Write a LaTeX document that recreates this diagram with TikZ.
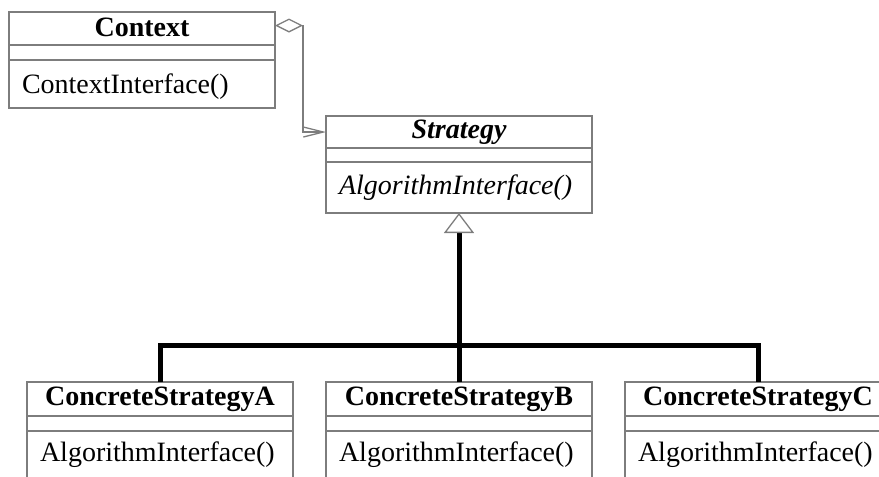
\documentclass[tikz,border=0pt]{standalone}
\usepackage{fontspec}
\setmainfont{Liberation Serif}
\usetikzlibrary{positioning,arrows.meta}
\definecolor{linegray}{RGB}{125,125,125}
\tikzset{
	classname/.style={draw=linegray, line width=1.3pt, outer sep=0pt, inner xsep=13pt, inner ysep=0pt, text width=240pt, align=center, text height=19pt, text depth=6pt, minimum height=33pt, font=\fontsize{28}{32}\selectfont\bfseries},
	classattr/.style={draw=linegray, line width=1.3pt, outer sep=0pt, inner sep=0pt, minimum width=266pt, minimum height=15pt},
	classop/.style={draw=linegray, line width=1.3pt, outer sep=0pt, inner xsep=13pt, inner ysep=0pt, text width=240pt, align=left, text height=19pt, text depth=6pt, minimum height=48pt, font=\fontsize{28}{32}\selectfont},
	assoc/.style={draw=linegray, line width=1.3pt, {Diamond[open, length=28pt, width=14pt]}-{Straight Barb[length=20pt, width=10pt]}},
	inherit/.style={line width=5pt, black},
}
\begin{document}
\begin{tikzpicture}[x=1pt,y=-1pt]
	\useasboundingbox (0,0) rectangle (879,477);
	\clip (0,0) rectangle (879,477);
	\node[classname, anchor=north west, text height=21pt] (ctx) at (9,12) {Context};
	\node[classattr, below=0pt of ctx] (ctx-attr) {};
	\node[classop, below=0pt of ctx-attr, text height=24pt] (ctx-op) {ContextInterface()};
	\node[classname, anchor=north west, minimum height=32pt, font=\fontsize{28}{32}\selectfont\bfseries\itshape] (strat) at (326,116) {Strategy};
	\node[classattr, below=0pt of strat, minimum height=14pt] (strat-attr) {};
	\node[classop, below=0pt of strat-attr, minimum height=51pt, font=\fontsize{28}{32}\selectfont\itshape] (strat-op) {AlgorithmInterface()};
	\foreach \n/\x in {A/27,B/326,C/625}
	{
		\node[classname, anchor=north west, minimum height=34pt] (conc\n) at (\x,382) {ConcreteStrategy\n};
		\node[classattr, below=0pt of conc\n] (conc\n-attr) {};
		\node[classop, below=0pt of conc\n-attr] (conc\n-op) {AlgorithmInterface()};
	}
	\draw[assoc] ([yshift=3pt]ctx.east) -- ++(28,0) |- (strat.west);
	\coordinate (fork) at (459,345);
	\draw[inherit, -{Triangle[open, length=20pt, width=30pt, line width=1.3pt, color=linegray, fill=white]}] (fork) -- (strat-op.south);
	\draw[inherit] (concA.north) |- (fork) -| (concC.north);
	\draw[inherit] (concB.north) -- (fork);
\end{tikzpicture}
\end{document}
